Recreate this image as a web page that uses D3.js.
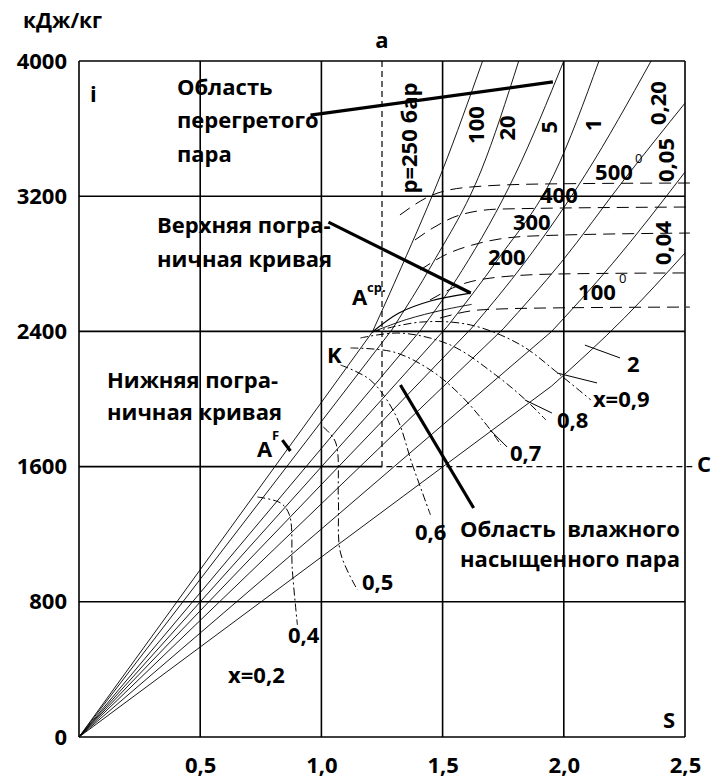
<!DOCTYPE html>
<html>
<head>
<meta charset="utf-8">
<script src="https://cdn.jsdelivr.net/npm/d3@7"></script>
<style>
  body { margin: 0; background: #fff; }
  svg { display: block; font-family: "Open Sans", sans-serif; font-weight: bold; }
</style>
</head>
<body>
<svg id="chart" width="716" height="778"></svg>
<script>
// ---- data (entropy s, enthalpy i) ----
const sTicks = [0.5, 1.0, 1.5, 2.0, 2.5];
const iTicks = [0, 800, 1600, 2400, 3200, 4000];
const sGrid = [0, 0.5, 1.0, 1.5, 2.0, 2.5];
const iGrid = [0, 800, 2400, 3200, 4000];
const iGridShort = [1600]; // solid only up to point a, dashed beyond

// isobars: straight from origin to the saturated vapour line, then curving up
const isobarBreak = [[1.21, 2396], [1.29, 2408], [1.41, 2408], [1.52, 2430],
                     [1.62, 2420], [1.75, 2415], [1.95, 2400], [1.95, 2077]];
const isobarSuper = [
  [[1.33, 2780], [1.50, 3355], [1.665, 4000]],
  [[1.46, 2805], [1.66, 3355], [1.814, 4000]],
  [[1.58, 2760], [1.80, 3330], [2.0, 4000]],
  [[1.73, 2830], [1.96, 3330], [2.145, 4000]],
  [[1.84, 2810], [2.09, 3330], [2.36, 4000]],
  [[1.99, 2810], [2.25, 3300], [2.5, 3751]],
  [[2.2, 2800], [2.5, 3343]],
  [[2.25, 2480], [2.5, 2864]]
];
const isobarLabels = [["100", 1.634, 3621], ["20", 1.762, 3604], ["5", 1.935, 3609],
                      ["1", 2.116, 3621], ["0,20", 2.385, 3751], ["0,05", 2.417, 3414],
                      ["0,04", 2.405, 2923], ["p=250 бар", 1.357, 3544]];

// upper boundary curve pieces near the critical point K
const upperCurve = [[1.21, 2396], [1.32, 2509], [1.45, 2580], [1.616, 2627]];
const upperCurve2 = [[1.21, 2396], [1.35, 2470], [1.50, 2526], [1.62, 2560]];

// lines of constant dryness x
const drynessCurves = [
  [[1.21, 2396], [1.409, 2455], [1.616, 2438], [1.822, 2320], [1.975, 2154], [2.112, 1994]],
  [[1.161, 2361], [1.326, 2390], [1.533, 2319], [1.719, 2142], [1.843, 1994], [1.926, 1876]],
  [[1.120, 2302], [1.298, 2278], [1.450, 2171], [1.574, 2023], [1.698, 1816], [1.740, 1728]],
  [[1.079, 2201], [1.202, 2112], [1.306, 1905], [1.376, 1609], [1.450, 1314]],
  [[1.008, 1834], [1.058, 1746], [1.070, 1402], [1.079, 1089], [1.149, 870]],
  [[0.736, 1420], [0.831, 1385], [0.868, 1314], [0.880, 988], [0.901, 663]]
];
const drynessLabels = [["2", 2.261, 2160], ["x=0,9", 2.120, 1953], ["0,8", 1.972, 1828],
                       ["0,7", 1.778, 1633], ["0,6", 1.386, 1166], ["0,5", 1.167, 870],
                       ["0,4", 0.862, 556], ["x=0,2", 0.615, 320]];
const drynessLeaders = [
  [[1.696, 1817], [1.766, 1716]],
  [[1.840, 1994], [1.951, 1917]],
  [[1.972, 2154], [2.137, 2095]],
  [[2.087, 2319], [2.232, 2243]]
];

// isotherms in the superheated region (°C)
const isotherms = [
  [[1.324, 3089], [1.448, 3201], [1.613, 3254], [1.902, 3272], [2.52, 3278]],
  [[1.386, 2941], [1.460, 3012], [1.572, 3089], [1.737, 3124], [2.52, 3136]],
  [[1.407, 2763], [1.510, 2852], [1.654, 2923], [1.861, 2964], [2.52, 2982]],
  [[1.448, 2586], [1.572, 2675], [1.737, 2722], [1.984, 2740], [2.52, 2746]],
  [[1.489, 2479], [1.654, 2527], [1.902, 2538], [2.52, 2544]]
];
const isothermLabels = [["500", 2.129, 3296], ["400", 1.902, 3160], ["300", 1.790, 3000],
                        ["200", 1.687, 2793], ["100", 2.059, 2586]];
const degreeMarks = [[2.294, 3396], [2.228, 2686]];

// point a -> C construction
const constructionA = [[1.25, 4000], [1.25, 1600], [2.53, 1600]];

// bold pointers from the region names
const pointers = [
  [[0.955, 3680], [1.955, 3876]],
  [[1.029, 3047], [1.616, 2627]],
  [[1.326, 2083], [1.628, 1355]],
  [[0.839, 1757], [0.872, 1692]]
];

// text blocks: [text, s, i]
const regionTexts = [
  ["Область", 0.404, 3799], ["перегретого", 0.404, 3604], ["пара", 0.404, 3402],
  ["Верхняя погра-", 0.322, 2982], ["ничная кривая", 0.322, 2781],
  ["Нижняя погра-", 0.1155, 2065], ["ничная кривая", 0.1155, 1876],
  ["Область  влажного", 1.572, 1183], ["насыщенного пара", 1.572, 1006],
  ["A", 0.734, 1657], ["A", 1.126, 2556], ["K", 1.023, 2213],
  ["i", 0.045, 3757], ["S", 2.409, 53], ["C", 2.550, 1568]
];
const smallTexts = [["F", 0.796, 1757], ["ср.", 1.188, 2633]];

// ---- drawing ----
const svg = d3.select("#chart");
const x = d3.scaleLinear().domain([0, 2.5]).range([79, 685]);
const y = d3.scaleLinear().domain([0, 4000]).range([737, 61]);

const straight = d3.line().x(d => x(d[0])).y(d => y(d[1]));
const smooth = d3.line().x(d => x(d[0])).y(d => y(d[1])).curve(d3.curveMonotoneX);
const smoothAny = d3.line().x(d => x(d[0])).y(d => y(d[1])).curve(d3.curveCatmullRom.alpha(0.5));

// grid and frame
svg.append("g").selectAll("line").data(sGrid).join("line")
  .attr("x1", d => x(d)).attr("x2", d => x(d))
  .attr("y1", y(0)).attr("y2", y(4000))
  .attr("stroke", "#000").attr("stroke-width", 1.6);
svg.append("g").selectAll("line").data(iGrid).join("line")
  .attr("x1", x(0)).attr("x2", x(2.5))
  .attr("y1", d => y(d)).attr("y2", d => y(d))
  .attr("stroke", "#000").attr("stroke-width", 1.6);
svg.append("g").selectAll("line").data(iGridShort).join("line")
  .attr("x1", x(0)).attr("x2", x(constructionA[1][0]))
  .attr("y1", d => y(d)).attr("y2", d => y(d))
  .attr("stroke", "#000").attr("stroke-width", 1.6);

// isobars
const isoG = svg.append("g").attr("fill", "none").attr("stroke", "#000").attr("stroke-width", 0.9);
isobarBreak.forEach((b, k) => {
  isoG.append("path").attr("d", straight([[0, 0], b]));
  isoG.append("path").attr("d", smooth([b].concat(isobarSuper[k])));
});

// boundary curve near K
svg.append("path").attr("d", smoothAny(upperCurve))
  .attr("fill", "none").attr("stroke", "#000").attr("stroke-width", 1.2);
svg.append("path").attr("d", smoothAny(upperCurve2))
  .attr("fill", "none").attr("stroke", "#000").attr("stroke-width", 0.9);

// constant dryness lines (dash-dot)
svg.append("g").selectAll("path").data(drynessCurves).join("path")
  .attr("d", d => smoothAny(d))
  .attr("fill", "none").attr("stroke", "#000").attr("stroke-width", 1)
  .attr("stroke-dasharray", "8,3,2,3");
svg.append("g").selectAll("path").data(drynessLeaders).join("path")
  .attr("d", d => straight(d))
  .attr("fill", "none").attr("stroke", "#000").attr("stroke-width", 1);

// isotherms (dashed)
svg.append("g").selectAll("path").data(isotherms).join("path")
  .attr("d", d => smooth(d))
  .attr("fill", "none").attr("stroke", "#000").attr("stroke-width", 1)
  .attr("stroke-dasharray", "12,7");

// a -> C construction
svg.append("path").attr("d", straight(constructionA))
  .attr("fill", "none").attr("stroke", "#000").attr("stroke-width", 1.2)
  .attr("stroke-dasharray", "6,4");

// bold pointers
svg.append("g").selectAll("path").data(pointers).join("path")
  .attr("d", d => straight(d))
  .attr("fill", "none").attr("stroke", "#000").attr("stroke-width", 3.2);

// axes
const yAxis = svg.append("g").attr("transform", `translate(${x(0)},0)`)
  .call(d3.axisLeft(y).tickValues(iTicks).tickSize(0).tickPadding(12).tickFormat(d3.format("d")));
const xAxis = svg.append("g").attr("transform", `translate(0,${y(0)})`)
  .call(d3.axisBottom(x).tickValues(sTicks).tickSize(0).tickPadding(20)
    .tickFormat(d => d.toFixed(1).replace(".", ",")));
[yAxis, xAxis].forEach(g => {
  g.attr("font-family", null).attr("font-size", null);
  g.select(".domain").remove();
  g.selectAll("text").attr("font-size", 22).attr("fill", "#000");
});

svg.append("text").attr("x", 23).attr("y", 28).attr("font-size", 21).text("кДж/кг");
svg.append("text").attr("x", x(1.25)).attr("y", 48).attr("text-anchor", "middle")
  .attr("font-size", 22).text("a");

// texts
const txt = svg.append("g").attr("font-size", 22).attr("fill", "#000");
txt.selectAll("text.region").data(regionTexts).join("text")
  .attr("x", d => x(d[1])).attr("y", d => y(d[2]))
  .style("white-space", "pre").text(d => d[0]);
txt.selectAll("text.small").data(smallTexts).join("text")
  .attr("x", d => x(d[1])).attr("y", d => y(d[2]))
  .attr("font-size", 13).text(d => d[0]);
txt.selectAll("text.dry").data(drynessLabels).join("text")
  .attr("x", d => x(d[1])).attr("y", d => y(d[2])).text(d => d[0]);
txt.selectAll("text.temp").data(isothermLabels).join("text")
  .attr("x", d => x(d[1])).attr("y", d => y(d[2])).text(d => d[0]);
txt.selectAll("text.deg").data(degreeMarks).join("text")
  .attr("x", d => x(d[0])).attr("y", d => y(d[1]))
  .attr("font-size", 13).attr("font-weight", "normal").text("0");
txt.selectAll("text.iso").data(isobarLabels).join("text")
  .attr("transform", d => `translate(${x(d[1])},${y(d[2])}) rotate(-90)`)
  .attr("text-anchor", "middle").attr("dominant-baseline", "central")
  .text(d => d[0]);
</script>
</body>
</html>
